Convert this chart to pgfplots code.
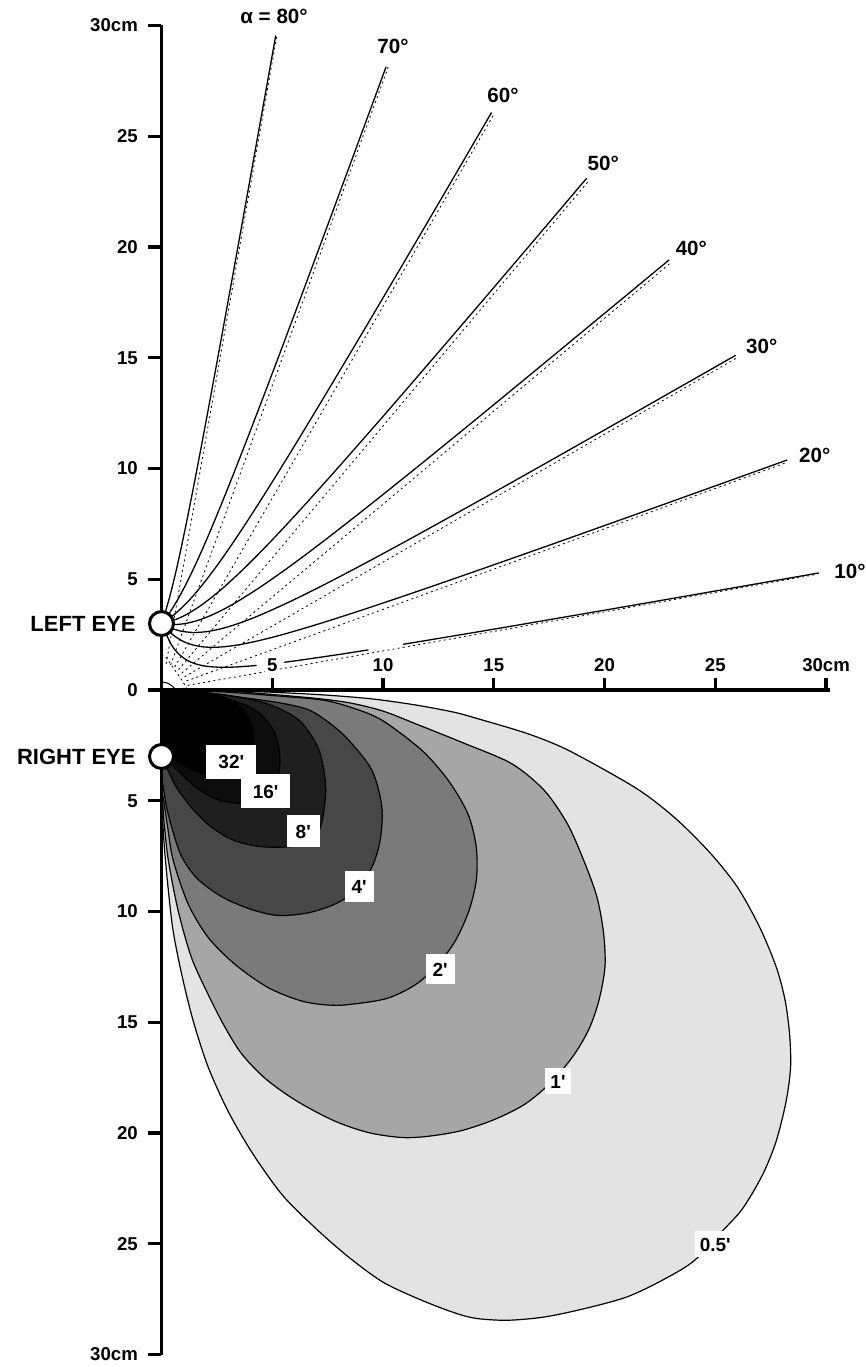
\documentclass[border=0pt]{standalone}
\usepackage{fontspec}
\setmainfont{Liberation Sans}
\usepackage{pgfplots}
\pgfplotsset{compat=1.18}
\newcommand{\lab}{\bfseries\fontsize{9.3}{10}\selectfont}
\newcommand{\deglab}{\bfseries\fontsize{10.3}{11}\selectfont}
\newcommand{\biglab}{\bfseries\fontsize{11}{12}\selectfont}
\tikzset{clabel/.style={fill=white, font=\bfseries\fontsize{9.5}{10}\selectfont, inner xsep=3.5pt, inner ysep=4pt, text height=0.72em, text depth=0pt}}
\pgfplotsset{dl/.style={black, line width=0.4pt, dash pattern=on 1pt off 1.6pt},
             sl/.style={black, line width=0.65pt, smooth}}
\begin{document}
\begin{tikzpicture}
\begin{axis}[x=11.075pt, y=11.075pt, xmin=0, xmax=30, ymin=-30, ymax=30,
  axis lines=none, clip=false, scale only axis]
\coordinate (bbsw) at (axis cs:-7.29,-30.56);
\coordinate (bbne) at (axis cs:31.76,31.15);

% ---------- disparity contours (lower half) ----------
% 0.5'
\addplot[smooth, fill=black!11, draw=black, line width=0.6pt] coordinates {
(0,0) (3,-0.03) (5,-0.1) (7.3,-0.22) (9.5,-0.4) (11.5,-0.68) (13.2,-1.0) (14.3,-1.3)
(16.5,-1.96) (18.2,-2.64) (20.3,-3.77) (21.8,-4.68) (23.3,-5.88) (24.8,-7.39) (26,-8.9)
(27,-10.7) (27.75,-12.5) (28.15,-14.0) (28.35,-15.5) (28.4,-17.0) (28.2,-18.55) (27.75,-20.36)
(27.14,-21.87) (26.24,-23.4) (25.34,-24.4) (24.0,-25.8) (22.5,-26.7) (21.0,-27.4) (19.2,-27.9)
(17.3,-28.3) (15.6,-28.45) (14.1,-28.35) (12.9,-28.0) (11.4,-27.4) (9.95,-26.7) (8.45,-25.6)
(6.96,-24.3) (5.46,-22.8) (4.1,-20.9) (3.0,-19.0) (2.1,-17.0) (1.45,-15.0) (0.95,-13.0)
(0.5,-10.7) (0.18,-7.7) (0.06,-6) (0.02,-4.8) (0,-4.2)} -- cycle;
% 1'
\addplot[smooth, fill=black!35, draw=black, line width=0.6pt] coordinates {
(0,0) (3,-0.05) (5,-0.2) (7,-0.38) (8.5,-0.58) (10,-0.95) (11.44,-1.51) (13.68,-2.41)
(15.8,-3.32) (17.27,-4.52) (18.32,-6.03) (19.06,-7.69) (19.66,-9.35) (19.96,-11.0) (20.02,-12.5)
(19.75,-14.0) (19.3,-15.3) (18.6,-16.5) (17.6,-17.7) (16.4,-18.7) (15.0,-19.4) (13.5,-19.9)
(12.0,-20.15) (10.84,-20.2) (9.35,-19.98) (7.8,-19.45) (6.1,-18.55) (4.7,-17.55)
(3.6,-16.4) (2.8,-15.1) (2.1,-13.73) (1.35,-12.07) (0.75,-9.95) (0.31,-7.69) (0.12,-6)
(0.04,-4.8) (0,-4.4)} -- cycle;
% 2'
\addplot[smooth, fill=black!52, draw=black, line width=0.6pt] coordinates {
(0,0) (2.5,-0.07) (5,-0.25) (7.26,-0.45) (8.6,-0.8) (9.95,-1.36) (11.74,-2.71) (12.94,-4.07)
(13.83,-5.58) (14.21,-7.09) (14.21,-8.6) (13.83,-10.1) (13.09,-11.6) (11.74,-13.1) (10.25,-13.9)
(8.45,-14.2) (7.5,-14.22) (6.29,-14.03) (4.79,-13.42) (3.3,-12.37) (2.1,-11.16) (1.2,-9.65)
(0.53,-7.69) (0.28,-6.2) (0.1,-5) (0,-4.5)} -- cycle;
% 4'
\addplot[smooth, fill=black!72, draw=black, line width=0.6pt] coordinates {
(0,0) (2,-0.12) (3.97,-0.38) (5.46,-0.6) (6.66,-0.9) (7.6,-1.5) (8.45,-2.26) (9.5,-3.62)
(9.95,-5.28) (9.87,-6.79) (9.5,-7.99) (8.75,-9.05) (7.86,-9.65) (6.66,-10.05) (5.31,-10.18)
(4.1,-9.92) (2.75,-9.35) (1.6,-8.5) (0.9,-7.5) (0.5,-6.33) (0.23,-5.28) (0.08,-4.37) (0,-4.0)} -- cycle;
% 8'
\addplot[smooth, fill=black!88, draw=black, line width=0.6pt] coordinates {
(0,0) (1.5,-0.07) (3,-0.25) (4.72,-0.6) (6.21,-1.36) (7.11,-2.71) (7.41,-4.37) (7.26,-5.88)
(6.9,-6.7) (6.0,-7.05) (4.6,-7.08) (3.3,-6.8) (2.2,-6.15) (1.3,-5.25) (0.65,-4.35) (0.25,-3.55)
(0,-3.2)} -- cycle;
% 16'
\addplot[smooth, fill=black!95, draw=black, line width=0.6pt] coordinates {
(0,0) (1.5,-0.12) (3,-0.4) (4.3,-0.95) (5.1,-1.9) (5.35,-3.1) (5.2,-4.1) (4.7,-4.75)
(3.8,-5.1) (2.7,-5.0) (1.7,-4.5) (0.9,-3.8) (0.3,-3.2) (0,-2.9)} -- cycle;
% 32'
\addplot[smooth, fill=black, draw=black, line width=0.6pt] coordinates {
(0,0) (1.6,-0.1) (2.9,-0.35) (3.7,-0.9) (4.1,-1.7) (4.1,-2.5) (3.6,-3.3) (2.9,-3.75)
(2.0,-3.8) (1.2,-3.5) (0.5,-3.1) (0,-2.8)} -- cycle;

\node[clabel, inner xsep=6pt, inner ysep=5pt] at (axis cs:3.15,-3.24) {32\textquotesingle};
\node[clabel, inner xsep=6pt, inner ysep=5pt] at (axis cs:4.7,-4.55) {16\textquotesingle};
\node[clabel, inner xsep=4.5pt, inner ysep=4.5pt] at (axis cs:6.4,-6.36) {8\textquotesingle};
\node[clabel] at (axis cs:8.92,-8.87) {4\textquotesingle};
\node[clabel] at (axis cs:12.58,-12.6) {2\textquotesingle};
\node[clabel, inner xsep=2.5pt, inner ysep=3pt] at (axis cs:17.9,-17.65) {1\textquotesingle};
\node[clabel, inner xsep=2.5pt, inner ysep=3pt] at (axis cs:25.0,-25.0) {0.5\textquotesingle};

% ---------- direction lines (upper half) ----------
\addplot[dl] coordinates {(1.18,0.21) (29.54,5.21)};
\addplot[dl] coordinates {(1.13,0.41) (28.19,10.26)};
\addplot[dl] coordinates {(1.04,0.6) (25.98,15)};
\addplot[dl] coordinates {(0.92,0.77) (22.98,19.28)};
\addplot[dl] coordinates {(0.77,0.92) (19.28,22.98)};
\addplot[dl] coordinates {(0.6,1.04) (15,25.98)};
\addplot[dl] coordinates {(0.41,1.13) (10.26,28.19)};
\addplot[dl] coordinates {(0.21,1.18) (5.21,29.54)};
\addplot[dl, smooth] coordinates {(0,1.6) (0.18,1.5) (0.5,1.05) (0.85,0.55) (1.1,0.15) (1.15,0)};
\addplot[black, line width=0.5pt, smooth] coordinates {(0,0.37) (0.3,0.3) (0.55,0.12) (0.63,0)};

% alpha = 10 (three pieces)
\addplot[sl] coordinates {(0,3) (0.442,2.052) (0.811,1.596) (1.163,1.340) (1.523,1.185)
 (1.908,1.092) (2.334,1.042) (2.819,1.026) (3.391,1.042) (4.092,1.092) (4.294,1.111)};
\addplot[sl] coordinates {(5.542,1.253) (6.198,1.340) (7.961,1.596) (9.342,1.812)};
\addplot[sl] coordinates {(10.91,2.065) (13.105,2.428) (16.486,3.0) (20.693,3.723) (25.52,4.560) (29.67,5.284)};
% alpha = 20
\addplot[sl] coordinates {(0,3) (0.4825,2.517) (0.9215,2.227) (1.354,2.052) (1.805,1.958)
 (2.298,1.928) (2.862,1.958) (3.537,2.052) (4.386,2.227) (5.517,2.517) (7.150,3.0) (9.137,3.639)
 (11.392,4.399) (14.227,5.381) (17.671,6.595) (21.533,7.972) (25.168,9.276) (28.249,10.385)};
% alpha = 30
\addplot[sl] coordinates {(0,3) (0.5044,2.765) (0.9943,2.638) (1.5,2.598) (2.052,2.638)
 (2.688,2.765) (3.464,3.0) (4.476,3.392) (5.908,4.042) (7.632,4.903) (9.572,5.926) (12.0,7.249)
 (14.942,8.885) (18.234,10.74) (21.695,12.704) (25.92,15.11)};
% alpha = 40
\addplot[sl] coordinates {(0,3) (0.5208,2.954) (1.058,3.0) (1.646,3.144) (2.333,3.412)
 (3.197,3.857) (4.385,4.596) (5.784,5.575) (7.338,6.739) (9.268,8.243) (11.593,10.104)
 (14.186,12.213) (16.619,14.211) (20.018,17.018) (22.92,19.42)};
% alpha = 50
\addplot[sl] coordinates {(0,3) (0.5376,3.144) (1.131,3.412) (1.838,3.857) (2.765,4.596)
 (3.818,5.575) (4.963,6.739) (6.362,8.243) (8.030,10.104) (9.881,12.213) (11.609,14.211)
 (14.018,17.018) (16.551,19.989) (19.19,23.10)};
% alpha = 60
\addplot[sl] coordinates {(0,3) (0.5593,3.392) (1.241,4.042) (1.970,4.903) (2.729,5.926)
 (3.629,7.249) (4.682,8.885) (5.833,10.74) (7.220,13.029) (8.842,15.745) (10.567,18.664)
 (12.492,21.943) (14.90,26.07)};
% alpha = 70
\addplot[sl] coordinates {(0,3) (0.338,3.448) (0.747,4.107) (1.186,4.936) (1.654,5.923)
 (2.219,7.217) (2.915,8.911) (3.781,11.108) (4.834,13.853) (6.032,17.035) (7.613,21.285)
 (9.248,25.71) (10.139,28.135)};
% alpha = 80
\addplot[sl] coordinates {(0,3) (0.170,3.509) (0.3795,4.242) (0.605,5.146) (0.847,6.219)
 (1.189,7.863) (1.573,9.819) (2.036,12.262) (2.630,15.484) (3.378,19.605) (4.256,24.501) (5.157,29.545)};

\node[font=\deglab] at (axis cs:5.08,30.4) {α = 80°};
\node[font=\deglab] at (axis cs:10.45,29.07) {70°};
\node[font=\deglab] at (axis cs:15.42,26.86) {60°};
\node[font=\deglab] at (axis cs:19.94,23.75) {50°};
\node[font=\deglab] at (axis cs:23.92,19.92) {40°};
\node[font=\deglab] at (axis cs:27.1,15.5) {30°};
\node[font=\deglab] at (axis cs:29.49,10.61) {20°};
\node[font=\deglab] at (axis cs:31.08,5.34) {10°};

% ---------- axes ----------
\addplot[black, line width=1.8pt] coordinates {(0,-30) (0,30)};
\addplot[black, line width=1.8pt] coordinates {(0,0) (30.2,0)};
\pgfplotsinvokeforeach{-30,-25,...,30}{\draw[line width=1.6pt] (axis cs:-0.6,#1) -- (axis cs:0,#1);}
\pgfplotsinvokeforeach{5,10,...,30}{\draw[line width=1.6pt] (axis cs:#1,0) -- (axis cs:#1,0.55);}

\node[font=\lab, anchor=east, inner sep=0pt] at (axis cs:-1.05,30) {30cm};
\node[font=\lab, anchor=east, inner sep=0pt] at (axis cs:-1.05,25) {25};
\node[font=\lab, anchor=east, inner sep=0pt] at (axis cs:-1.05,20) {20};
\node[font=\lab, anchor=east, inner sep=0pt] at (axis cs:-1.05,15) {15};
\node[font=\lab, anchor=east, inner sep=0pt] at (axis cs:-1.05,10) {10};
\node[font=\lab, anchor=east, inner sep=0pt] at (axis cs:-1.05,5) {5};
\node[font=\lab, anchor=east, inner sep=0pt] at (axis cs:-1.05,0) {0};
\node[font=\lab, anchor=east, inner sep=0pt] at (axis cs:-1.05,-5) {5};
\node[font=\lab, anchor=east, inner sep=0pt] at (axis cs:-1.05,-10) {10};
\node[font=\lab, anchor=east, inner sep=0pt] at (axis cs:-1.05,-15) {15};
\node[font=\lab, anchor=east, inner sep=0pt] at (axis cs:-1.05,-20) {20};
\node[font=\lab, anchor=east, inner sep=0pt] at (axis cs:-1.05,-25) {25};
\node[font=\lab, anchor=east, inner sep=0pt] at (axis cs:-1.05,-30) {30cm};

\node[font=\lab, anchor=south, fill=white, inner sep=1pt] at (axis cs:5,0.7) {5};
\node[font=\lab, anchor=south, fill=white, inner sep=1pt] at (axis cs:10,0.7) {10};
\node[font=\lab, anchor=south, inner sep=1pt] at (axis cs:15,0.7) {15};
\node[font=\lab, anchor=south, inner sep=1pt] at (axis cs:20,0.7) {20};
\node[font=\lab, anchor=south, inner sep=1pt] at (axis cs:25,0.7) {25};
\node[font=\lab, anchor=south, inner sep=1pt] at (axis cs:30,0.7) {30cm};

% ---------- eyes ----------
\addplot[only marks, mark=*, mark size=6pt, mark options={fill=white, draw=black, line width=1.5pt}]
  coordinates {(0,3) (0,-3)};
\node[font=\biglab, anchor=east, inner sep=0pt] at (axis cs:-1.15,3) {LEFT EYE};
\node[font=\biglab, anchor=east, inner sep=0pt] at (axis cs:-1.15,-3) {RIGHT EYE};
\end{axis}
\pgfresetboundingbox
\path (bbsw) rectangle (bbne);
\end{tikzpicture}
\end{document}
